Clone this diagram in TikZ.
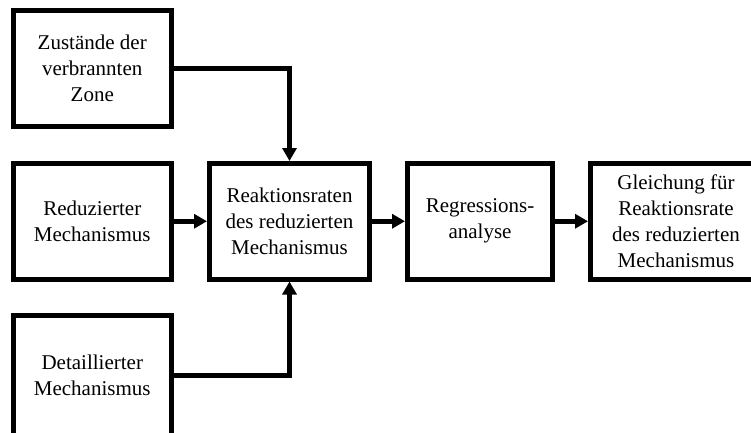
\documentclass[tikz,border=0pt]{standalone}
\usepackage{fontspec}
\setmainfont{Liberation Serif}
\usetikzlibrary{arrows.meta}
\begin{document}
\begin{tikzpicture}[x=1pt,y=-1pt,
  box/.style={draw, line width=5pt, inner sep=0pt, align=center, fill=white,
    font=\fontsize{21}{26}\selectfont},
  conn/.style={line width=5pt, -{Triangle[length=13pt,width=14pt]}}]
\clip (0,0) rectangle (751,432);
\useasboundingbox (0,0) rectangle (751,432);
\node[box, minimum width=157.5pt, minimum height=116pt] (zust) at (92.25,68) {Zustände der\\verbrannten\\Zone};
\node[box, minimum width=157.5pt, minimum height=115.5pt] (red) at (92.25,221.25) {Reduzierter\\Mechanismus};
\node[box, minimum width=157.5pt, minimum height=120.5pt] (det) at (92.25,375.75) {Detaillierter\\Mechanismus};
\node[box, minimum width=160pt, minimum height=115.5pt] (rate) at (289.5,221.25) {Reaktionsraten\\des reduzierten\\Mechanismus};
\node[box, minimum width=145pt, minimum height=115.5pt] (reg) at (480,221.25) {Regressions-\\analyse};
\node[box, minimum width=171pt, minimum height=115.5pt] (gl) at (676,221.25) {Gleichung für\\Reaktionsrate\\des reduzierten\\Mechanismus};
\draw[conn] (zust.east) -| (rate.north);
\draw[conn] (red.east) -- (rate.west);
\draw[conn] (det.east) -| (rate.south);
\draw[conn] (rate.east) -- (reg.west);
\draw[conn] (reg.east) -- (gl.west);
\end{tikzpicture}
\end{document}
